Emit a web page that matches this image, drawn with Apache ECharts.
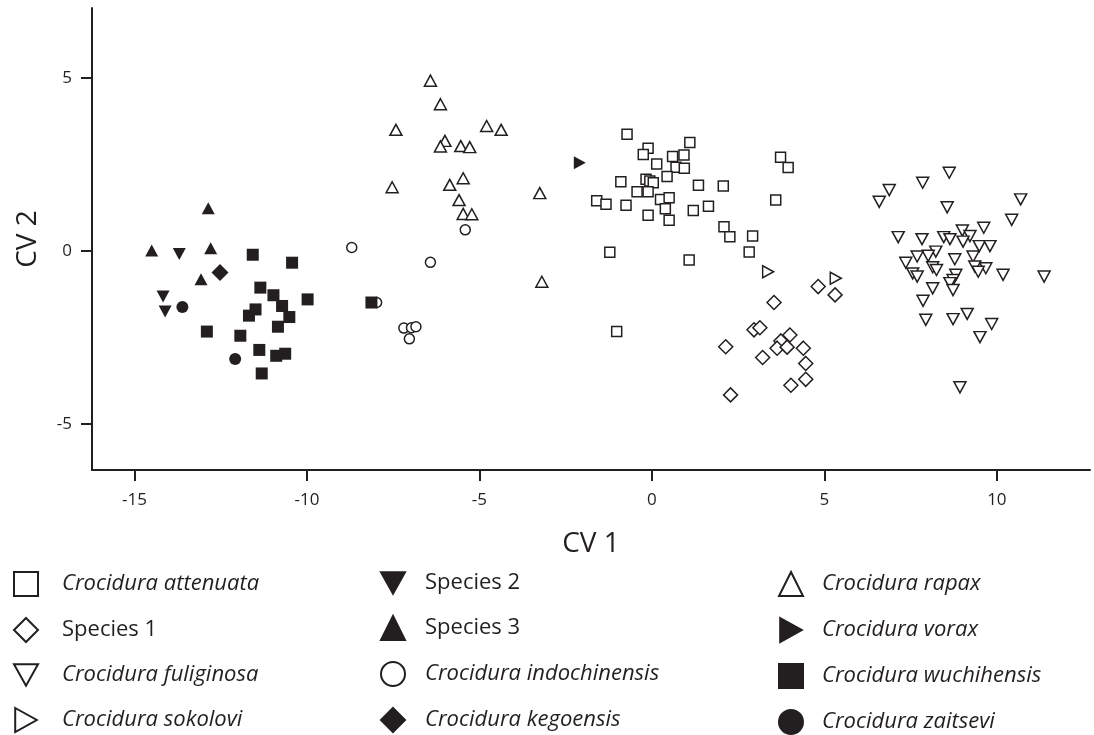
<!DOCTYPE html>
<html>
<head>
<meta charset="utf-8">
<script src="https://cdn.jsdelivr.net/npm/echarts@6/dist/echarts.min.js"></script>
<style>html,body{margin:0;padding:0;background:#fff;}#c{width:1094px;height:735px;}</style>
</head>
<body>
<div id="c"></div>
<script>
// ---- data ----
const xTicks = [-15, -10, -5, 0, 5, 10];
const yTicks = [-5, 0, 5];
const xTitle = 'CV 1';
const yTitle = 'CV 2';

const attenuata = [[-0.72,3.37],[-0.11,2.97],[-0.25,2.79],[1.10,3.13],[0.60,2.73],[0.93,2.77],[0.14,2.51],[0.70,2.42],[0.94,2.39],[0.44,2.15],[-0.90,2.00],[-0.17,2.07],[-0.06,2.02],[0.04,1.97],[-0.43,1.71],[-0.11,1.71],[1.35,1.90],[2.07,1.88],[-1.60,1.45],[-1.33,1.35],[-0.75,1.32],[0.25,1.49],[0.50,1.54],[0.39,1.22],[1.64,1.29],[1.20,1.17],[-0.11,1.03],[0.50,0.89],[2.09,0.70],[2.26,0.41],[2.92,0.43],[2.82,-0.03],[-1.22,-0.04],[1.08,-0.26],[3.73,2.71],[3.95,2.41],[3.59,1.47],[-1.02,-2.33]];
const species1 = [[4.82,-1.03],[5.31,-1.27],[3.54,-1.49],[2.96,-2.28],[3.13,-2.22],[2.14,-2.77],[4.00,-2.43],[3.74,-2.60],[3.63,-2.81],[3.92,-2.78],[4.39,-2.81],[3.21,-3.08],[4.46,-3.25],[4.46,-3.71],[4.03,-3.88],[2.28,-4.16]];
const fuliginosa = [[8.62,2.26],[7.85,1.97],[6.88,1.76],[6.59,1.42],[10.69,1.49],[8.56,1.26],[10.43,0.90],[9.62,0.67],[9.00,0.59],[9.22,0.43],[7.14,0.40],[7.83,0.34],[8.46,0.40],[8.64,0.34],[9.02,0.27],[9.49,0.14],[9.80,0.14],[8.23,-0.02],[8.01,-0.14],[7.69,-0.16],[9.31,-0.16],[8.78,-0.24],[7.36,-0.34],[8.14,-0.47],[8.25,-0.55],[9.36,-0.45],[9.68,-0.50],[9.46,-0.60],[7.56,-0.65],[7.69,-0.74],[8.81,-0.69],[10.18,-0.69],[11.37,-0.74],[8.73,-0.84],[8.64,-0.93],[8.14,-1.08],[8.73,-1.13],[7.86,-1.44],[7.94,-1.99],[8.73,-1.97],[9.14,-1.82],[9.85,-2.11],[9.51,-2.49],[8.93,-3.94]];
const sokolovi = [[3.37,-0.60],[5.33,-0.79]];
const species2 = [[-13.70,-0.09],[-14.17,-1.32],[-14.11,-1.75]];
const species3 = [[-12.86,1.23],[-14.50,0.01],[-12.79,0.08],[-13.07,-0.82]];
const indochinensis = [[-5.41,0.61],[-8.70,0.10],[-6.42,-0.33],[-7.98,-1.49],[-7.19,-2.23],[-6.97,-2.22],[-6.84,-2.19],[-7.03,-2.54]];
const kegoensis = [[-12.52,-0.62]];
const rapax = [[-6.42,4.92],[-6.13,4.24],[-7.42,3.50],[-4.79,3.61],[-4.37,3.50],[-6.00,3.18],[-6.13,3.02],[-5.54,3.03],[-5.28,3.00],[-7.53,1.84],[-5.86,1.91],[-5.47,2.10],[-3.25,1.67],[-5.59,1.47],[-5.47,1.07],[-5.22,1.06],[-3.19,-0.89]];
const vorax = [[-2.09,2.55]];
const wuchihensis = [[-11.57,-0.11],[-10.43,-0.34],[-11.35,-1.06],[-10.97,-1.28],[-9.98,-1.40],[-10.72,-1.59],[-11.49,-1.69],[-11.68,-1.87],[-10.51,-1.91],[-10.84,-2.19],[-12.90,-2.33],[-11.93,-2.45],[-11.38,-2.86],[-10.63,-2.97],[-10.89,-3.03],[-11.31,-3.54],[-8.13,-1.49]];
const zaitsevi = [[-13.61,-1.62],[-12.08,-3.12]];

const legendCol1 = ['Crocidura attenuata', 'Species 1', 'Crocidura fuliginosa', 'Crocidura sokolovi'];
const legendCol2 = ['Species 2', 'Species 3', 'Crocidura indochinensis', 'Crocidura kegoensis'];
const legendCol3 = ['Crocidura rapax', 'Crocidura vorax', 'Crocidura wuchihensis', 'Crocidura zaitsevi'];

// ---- styling ----
const INK = '#231f20';
const DOWN = 'path://M0,0L10,0L5,9Z';
const RIGHT = 'path://M0,0L9,5L0,10Z';

function hollow(name, data, symbol, size) {
  return { name, type: 'scatter', data, symbol, symbolSize: size,
    itemStyle: { color: '#fff', borderColor: INK, borderWidth: 1.5, opacity: 1 },
    emphasis: { disabled: true } };
}
function filled(name, data, symbol, size) {
  return { name, type: 'scatter', data, symbol, symbolSize: size,
    itemStyle: { color: INK, borderColor: INK, borderWidth: 0, opacity: 1 },
    emphasis: { disabled: true } };
}

const series = [
  hollow('Crocidura attenuata', attenuata, 'rect', 10),
  hollow('Species 1', species1, 'diamond', 14),
  hollow('Crocidura fuliginosa', fuliginosa, DOWN, [12, 11]),
  hollow('Crocidura sokolovi', sokolovi, RIGHT, [11, 12]),
  hollow('Crocidura rapax', rapax, 'triangle', [12, 11]),
  hollow('Crocidura indochinensis', indochinensis, 'circle', 10),
  filled('Species 2', species2, DOWN, [13, 12]),
  filled('Species 3', species3, 'triangle', [13, 12]),
  filled('Crocidura kegoensis', kegoensis, 'diamond', 17),
  filled('Crocidura vorax', vorax, RIGHT, [12, 13]),
  filled('Crocidura wuchihensis', wuchihensis, 'rect', 12),
  filled('Crocidura zaitsevi', zaitsevi, 'circle', 12)
];

function legendAt(data, left, pad) {
  return {
    data, orient: 'vertical', left, top: 571, width: 340, height: 200,
    itemWidth: 24, itemHeight: 24, itemGap: 20,
    selectedMode: false, padding: 0,
    itemStyle: { borderWidth: 2 },
    formatter: n => (n.startsWith('Crocidura') ? '{i|' + n + '}' : '{n|' + n + '}'),
    textStyle: {
      color: INK, fontFamily: 'Open Sans', fontSize: 22, lineHeight: 24,
      rich: {
        i: { fontStyle: 'italic', fontSize: 22, lineHeight: 24, fontFamily: 'Open Sans', color: INK, padding: [0, 0, 0, pad] },
        n: { fontSize: 22, lineHeight: 24, fontFamily: 'Open Sans', color: INK, padding: [0, 0, 0, pad] }
      }
    }
  };
}

const chart = echarts.init(document.getElementById('c'), null, { renderer: 'canvas' });
chart.setOption({
  backgroundColor: '#fff',
  animation: false,
  textStyle: { fontFamily: 'Open Sans' },
  grid: { left: 92, right: 4, top: 8, bottom: 265, containLabel: false },
  xAxis: {
    type: 'value', min: -16.23, max: 12.7,
    name: xTitle, nameLocation: 'middle', nameGap: 60,
    nameTextStyle: { fontSize: 28, color: INK, fontFamily: 'Open Sans' },
    axisLine: { onZero: false, lineStyle: { color: INK, width: 2 } },
    axisTick: { show: true, inside: false, length: 11, lineStyle: { color: INK, width: 2 }, customValues: xTicks },
    axisLabel: { color: INK, fontSize: 17, margin: 22, customValues: xTicks, showMinLabel: true, showMaxLabel: true },
    splitLine: { show: false }
  },
  yAxis: {
    type: 'value', min: -6.33, max: 7.02,
    name: yTitle, nameLocation: 'middle', nameGap: 50, nameRotate: 90,
    nameTextStyle: { fontSize: 28, color: INK, fontFamily: 'Open Sans' },
    axisLine: { onZero: false, lineStyle: { color: INK, width: 2 } },
    axisTick: { show: true, inside: false, length: 11, lineStyle: { color: INK, width: 2 }, customValues: yTicks },
    axisLabel: { color: INK, fontSize: 17, margin: 20, customValues: yTicks },
    splitLine: { show: false }
  },
  legend: [legendAt(legendCol1, 13, 19), legendAt(legendCol2, 380, 15), legendAt(legendCol3, 778, 14)],
  series
});
</script>
</body>
</html>
